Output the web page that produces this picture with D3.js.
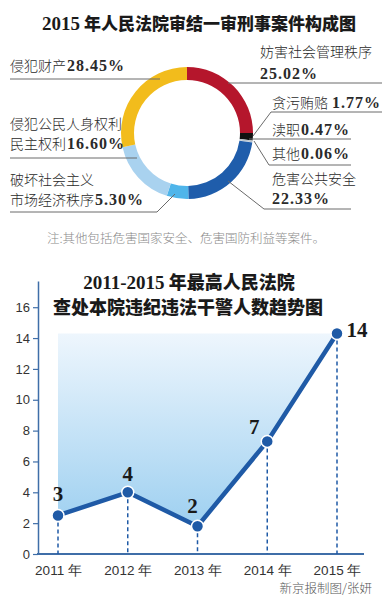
<!DOCTYPE html>
<html><head><meta charset="utf-8">
<script src="https://cdn.jsdelivr.net/npm/d3@7/dist/d3.min.js"></script>
<style>
html,body{margin:0;padding:0;background:#fff;}
svg{display:block;}
</style></head>
<body>
<script>
// ---------- Data: donut ----------
const pieNames = ["妨害社会管理秩序","贪污贿赂","渎职","其他","危害公共安全","破坏社会主义市场经济秩序","侵犯公民人身权利民主权利","侵犯财产"];
const pieValues = [25.02, 1.77, 0.47, 0.06, 22.33, 5.30, 16.60, 28.45];
const pieColors = ["#b5162c","#111111","#b9c5cf","#e3e9ee","#1f5dab","#4fb5ea","#a9d2ef","#f2bc1c"];
const pieLabelText = ["25.02%","1.77%","0.47%","0.06%","22.33%","5.30%","16.60%","28.45%"];

// ---------- Data: line ----------
const years = ["2011","2012","2013","2014","2015"];
const counts = [2.5, 4, 1.8, 7.3, 14.3];          // plotted positions as drawn
const countLabels = ["3","4","2","7","14"];        // printed values
const yTicks = [0,2,4,6,8,10,12,14,16];

const W = 382, H = 600;
const svg = d3.select("body").append("svg").attr("width", W).attr("height", H);

const cjk = "'Noto Sans CJK SC','Noto Sans',sans-serif";
const serif = "'Liberation Serif','DejaVu Serif',serif";
const sans = "'Liberation Sans',Arial,sans-serif";

// ---------- Title 1 ----------
const t1 = svg.append("text").attr("x", 199).attr("y", 30).attr("text-anchor","middle")
  .attr("fill","#1a1a1a").style("font-weight","bold");
t1.append("tspan").text("2015").style("font-family", serif).style("font-size","19px");
t1.append("tspan").text(" 年人民法院审结一审刑事案件构成图").style("font-family", cjk).style("font-size","17px").style("font-weight","900");

// ---------- Donut ----------
const cx = 187, cy = 133;
const pie = d3.pie().sort(null).value(d => d)(pieValues);
const arc = d3.arc().innerRadius(53).outerRadius(66);
const g1 = svg.append("g").attr("transform", `translate(${cx},${cy})`);
g1.selectAll("path").data(pie).join("path")
  .attr("d", arc).attr("fill", (d,i) => pieColors[i]);

// leader lines
const lead = svg.append("g").attr("stroke","#6a6a6a").attr("stroke-width",1).attr("fill","none");
const leaders = [
  [[228,83],[382,83]],                    // 妨害
  [[253,136],[271,112],[382,112]],        // 贪污
  [[249,139],[351,139]],                  // 渎职
  [[254,141],[269,165],[351,165]],        // 其他
  [[228,181],[264,209],[351,209]],        // 危害
  [[175,194],[157,212],[10,212]],         // 破坏
  [[137,158],[10,158]],                   // 侵犯人身
  [[160,79],[10,79]]                      // 侵犯财产
];
leaders.forEach(p => lead.append("path").attr("d", d3.line()(p)));

function label(x, y, cjkText, pct) {
  const t = svg.append("text").attr("x", x).attr("y", y).attr("fill","#2a2a2a");
  if (cjkText) t.append("tspan").text(cjkText).style("font-family", cjk).style("font-size","14px").style("font-weight","300");
  if (pct) t.append("tspan").text(pct).style("font-family", serif).style("font-size","16px")
            .style("font-weight","bold").style("letter-spacing","1px").attr("dx", cjkText ? 1 : 0);
}
// right side
label(260, 57, pieNames[0], null);
label(260, 79, null, pieLabelText[0]);
label(272, 108, pieNames[1] + " ", pieLabelText[1]);
label(272, 135, pieNames[2], pieLabelText[2]);
label(272, 159, pieNames[3], pieLabelText[3]);
label(272, 184, pieNames[4], null);
label(272, 204, null, pieLabelText[4]);
// left side
label(10, 71, pieNames[7], pieLabelText[7]);
label(10, 129, "侵犯公民人身权利", null);
label(10, 149, "民主权利", pieLabelText[6]);
label(10, 185, "破坏社会主义", null);
label(10, 205, "市场经济秩序", pieLabelText[5]);

// note
svg.append("text").attr("x", 186).attr("y", 243).attr("text-anchor","middle")
  .attr("fill","#8a8a8a").style("font-family", cjk).style("font-size","12.5px").style("font-weight","300")
  .text("注:其他包括危害国家安全、危害国防利益等案件。");

// ---------- Title 2 ----------
const t2a = svg.append("text").attr("x", 189).attr("y", 289).attr("text-anchor","middle")
  .attr("fill","#1a1a1a").style("font-weight","bold");
t2a.append("tspan").text("2011-2015").style("font-family", serif).style("font-size","19px");
t2a.append("tspan").text(" 年最高人民法院").style("font-family", cjk).style("font-size","18px").style("font-weight","900");
svg.append("text").attr("x", 188).attr("y", 314).attr("text-anchor","middle")
  .attr("fill","#1a1a1a").style("font-family", cjk).style("font-size","18px").style("font-weight","900")
  .text("查处本院违纪违法干警人数趋势图");

// ---------- Line chart ----------
const x = d3.scalePoint().domain(years).range([58, 337]).padding(0);
const y = d3.scaleLinear().domain([0, 17.7]).range([554, 281]);
const blue = "#1f5aa6";

const defs = svg.append("defs");
const grad = defs.append("linearGradient").attr("id","ag").attr("gradientUnits","userSpaceOnUse")
  .attr("x1",0).attr("y1", y(d3.max(counts))).attr("x2",0).attr("y2", y(1.5));
grad.append("stop").attr("offset","0").attr("stop-color","#eef6fd");
grad.append("stop").attr("offset","1").attr("stop-color","#9ccff0");

const maxV = d3.max(counts);
svg.append("path").datum(counts)
  .attr("d", d3.area().x((d,i) => x(years[i])).y0(y(maxV)).y1(d => y(d)))
  .attr("fill","url(#ag)");

// y axis
const yAxis = svg.append("g").attr("transform","translate(38,0)")
  .call(d3.axisLeft(y).tickValues(yTicks).tickSize(5).tickSizeOuter(0).tickPadding(3));
yAxis.select(".domain").attr("stroke","#3f6ea8").attr("stroke-width",1.5);
yAxis.selectAll(".tick line").attr("stroke","#3f6ea8").attr("stroke-width",1.2);
yAxis.selectAll(".tick text").attr("fill","#333").style("font-family", sans).style("font-size","13px");

// x axis
const xAxis = svg.append("g").attr("transform",`translate(0,${y(0)})`)
  .call(d3.axisBottom(x).tickSize(0).tickPadding(11).tickFormat(d => d + " 年"));
xAxis.select(".domain").remove();
svg.append("line").attr("x1",37).attr("x2",364).attr("y1",y(0)).attr("y2",y(0))
  .attr("stroke","#3f6ea8").attr("stroke-width",2);
xAxis.selectAll(".tick text").attr("fill","#333").style("font-family", sans).style("font-size","13.5px");

// dashed drop lines
svg.append("g").selectAll("line").data(counts).join("line")
  .attr("x1",(d,i)=>x(years[i])).attr("x2",(d,i)=>x(years[i]))
  .attr("y1", d => y(d)).attr("y2", y(0))
  .attr("stroke", blue).attr("stroke-width",1.5).attr("stroke-dasharray","4,3");

// line
svg.append("path").datum(counts)
  .attr("d", d3.line().x((d,i)=>x(years[i])).y(d=>y(d)))
  .attr("fill","none").attr("stroke", blue).attr("stroke-width",4.5).attr("stroke-linejoin","round");

// points
svg.append("g").selectAll("circle").data(counts).join("circle")
  .attr("cx",(d,i)=>x(years[i])).attr("cy", d=>y(d)).attr("r",6)
  .attr("fill", blue).attr("stroke","#fff").attr("stroke-width",1.5);

// value labels (offsets relative to point)
const labOff = [[0,-14],[0,-11],[-5,-13],[-13,-7],[20,4]];
svg.append("g").selectAll("text").data(counts).join("text")
  .attr("x",(d,i)=>x(years[i]) + labOff[i][0]).attr("y",(d,i)=>y(d) + labOff[i][1])
  .attr("text-anchor","middle").attr("fill","#1a1a1a")
  .style("font-family", serif).style("font-weight","bold").style("font-size","21px")
  .text((d,i)=>countLabels[i]);

// source
svg.append("text").attr("x", 372).attr("y", 593).attr("text-anchor","end")
  .attr("fill","#555").style("font-family", cjk).style("font-size","12.5px").style("font-weight","300")
  .text("新京报制图/张妍");
</script>
</body></html>
